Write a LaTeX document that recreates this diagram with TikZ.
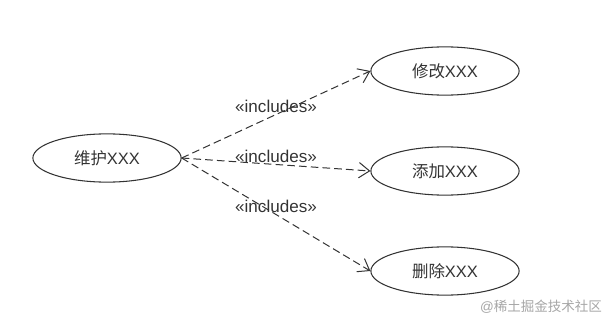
\documentclass[tikz,border=0pt]{standalone}
\usepackage{fontspec}
\setmainfont{Liberation Sans}
\newfontfamily\cjk{Noto Sans CJK SC}
\usetikzlibrary{shapes.geometric, arrows.meta}
\definecolor{linegray}{HTML}{333333}
\tikzstyle{usecase} = [
    ellipse,
    minimum width=126pt,
    minimum height=41pt,
    inner sep=0pt,
    draw=linegray,
    line width=0.9pt,
    text=linegray,
    font=\fontsize{14}{16}\selectfont
]
\tikzstyle{include} = [dash pattern=on 6.5pt off 3.5pt, line width=0.85pt, draw=linegray,
    -{Straight Barb[length=9pt, width=13pt, line width=0.85pt]}]
\tikzstyle{stereo} = [midway, above, inner sep=1.5pt, text=linegray, font=\fontsize{14.5}{16}\selectfont]

\begin{document}
\begin{tikzpicture}[x=0.85pt, y=-0.85pt]
\useasboundingbox (0,0) rectangle (611,324);

\node (maintain) [usecase] at (107,158) {{\cjk 维护}XXX};

\node (modify) [usecase] at (445,71) {{\cjk 修改}XXX};

\node (add) [usecase] at (445,171) {{\cjk 添加}XXX};

\node (delete) [usecase] at (445,271) {{\cjk 删除}XXX};

\draw [include] (maintain.east) -- node[stereo] {«includes»} (modify.west);
\draw [include] (maintain.east) -- node[stereo] {«includes»} (add.west);
\draw [include] (maintain.east) -- node[stereo] {«includes»} (delete.west);

\node (mark) at (541,307) [text=black!35, font=\fontsize{11.5}{13}\selectfont] {@{\cjk 稀土掘金技术社区}};

\end{tikzpicture}
\end{document}
